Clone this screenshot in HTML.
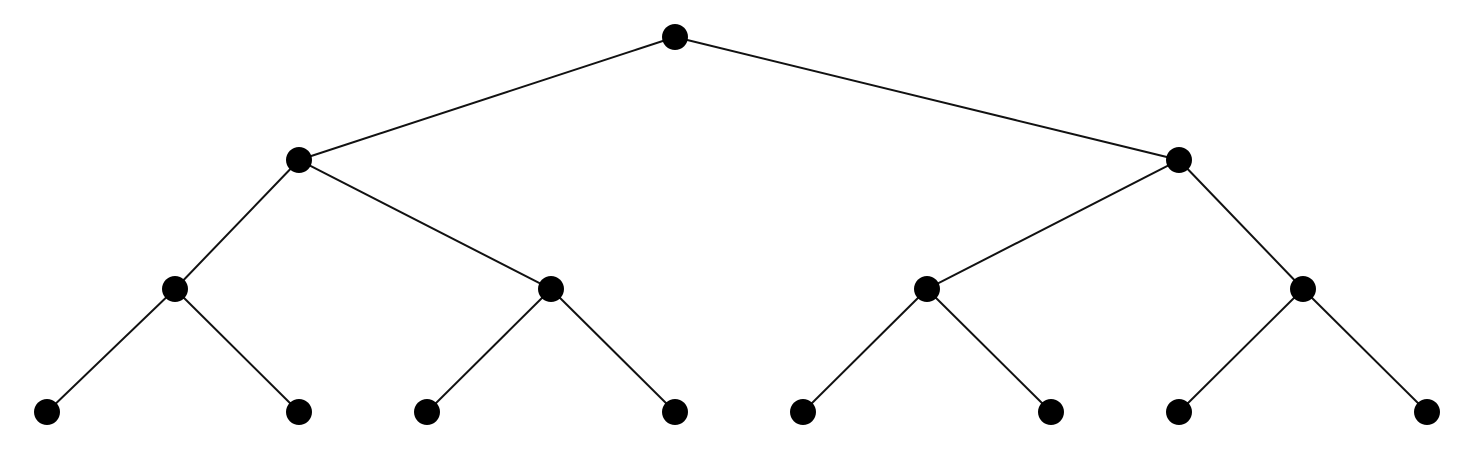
<!DOCTYPE html>
<html><head><meta charset="utf-8"><style>
html,body{margin:0;padding:0;background:#fff;}
svg{display:block;}
</style></head><body>
<svg id="tree" width="1472" height="462" viewBox="0 0 1472 462" xmlns="http://www.w3.org/2000/svg"></svg>
<script>
// node x positions per level, and level y positions
const levelX = [
  [675],
  [299, 1179],
  [175, 551, 927, 1303],
  [47, 299, 427, 675, 803, 1051, 1179, 1427]
];
const levelY = [37, 160, 289, 412];
const nodeRadius = 13;

const svg = document.getElementById('tree');
const NS = 'http://www.w3.org/2000/svg';
const edges = document.createElementNS(NS, 'g');


const nodes = document.createElementNS(NS, 'g');


svg.appendChild(edges);
svg.appendChild(nodes);

for (let l = 1; l < levelX.length; l++) {
  levelX[l].forEach((x, i) => {
    const px = levelX[l-1][Math.floor(i/2)];
    const line = document.createElementNS(NS, 'line');
    line.setAttribute('x1', px);
    line.setAttribute('y1', levelY[l-1]);
    line.setAttribute('x2', x);
    line.setAttribute('y2', levelY[l]);
    line.setAttribute('stroke', '#111');
    line.setAttribute('stroke-width', '2');
    
    
    edges.appendChild(line);
  });
}
levelX.forEach((xs, l) => {
  xs.forEach(x => {
    const c = document.createElementNS(NS, 'circle');
    c.setAttribute('cx', x);
    c.setAttribute('cy', levelY[l]);
    c.setAttribute('r', nodeRadius);
    c.setAttribute('fill', '#000');
    
    
    nodes.appendChild(c);
  });
});
</script>
</body></html>
